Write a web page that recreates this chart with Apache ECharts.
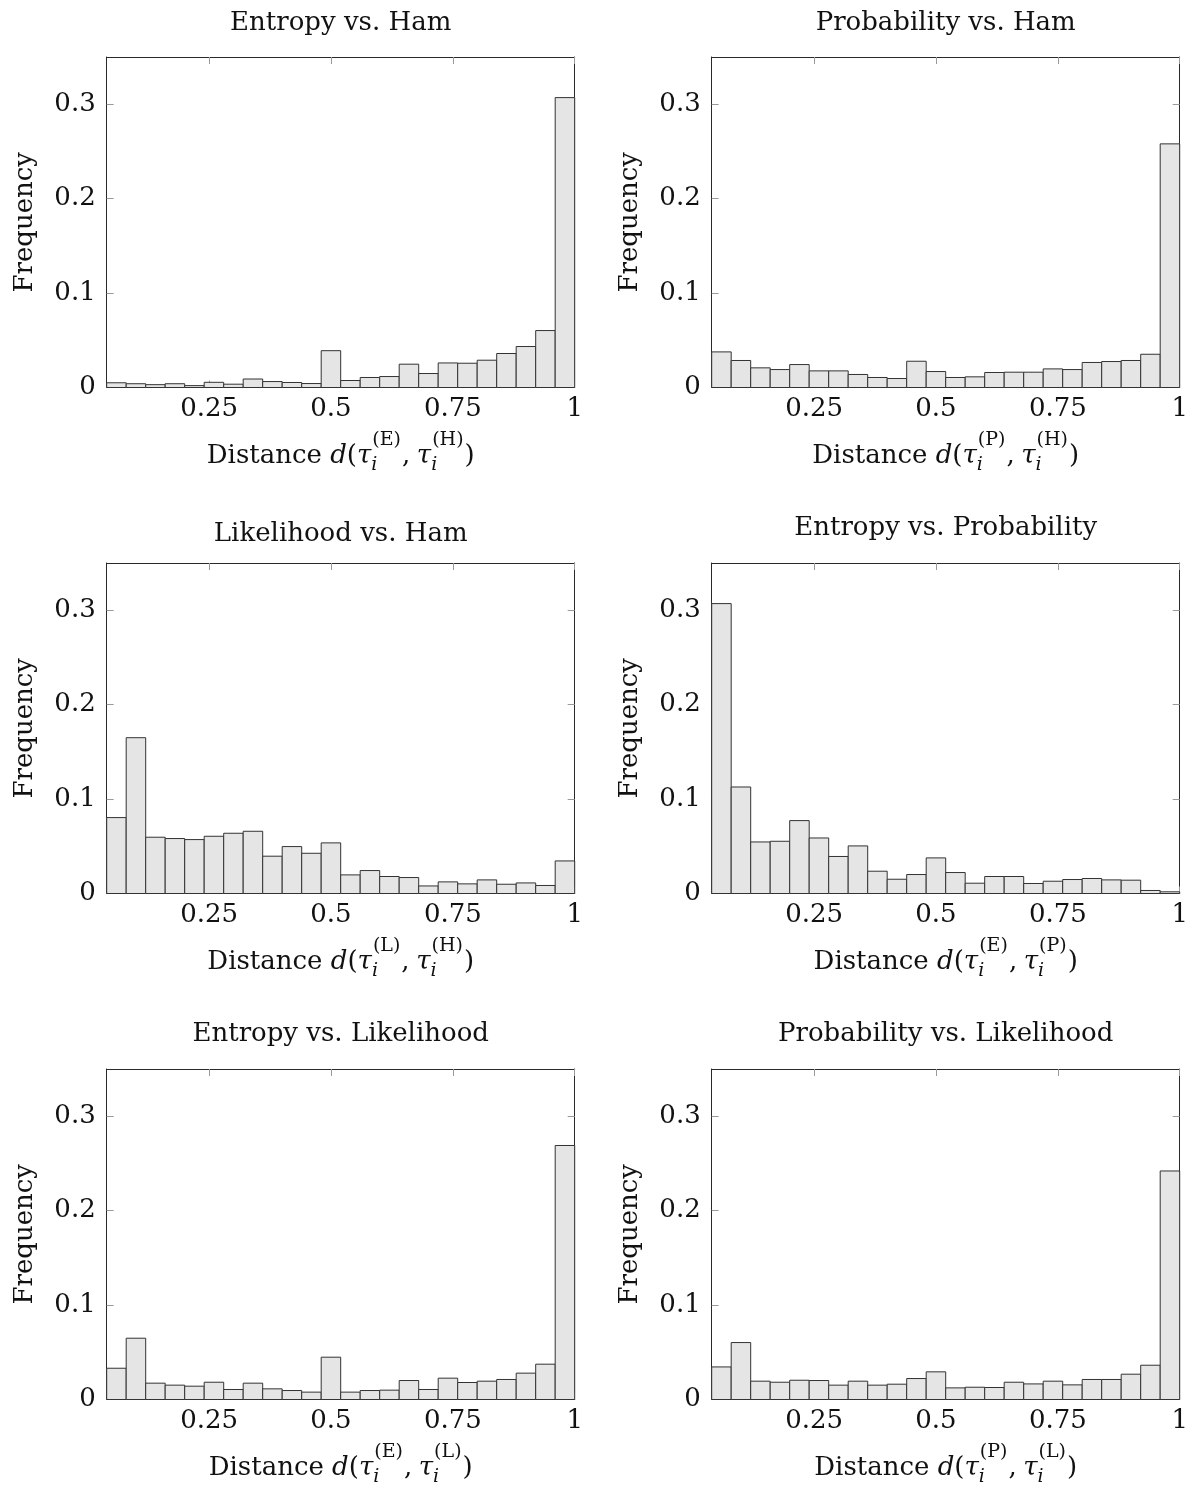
<!DOCTYPE html>
<html>
<head>
<meta charset="utf-8">
<script src="https://cdn.jsdelivr.net/npm/echarts@6/dist/echarts.min.js"></script>
<style>
  html, body { margin: 0; padding: 0; background: #fff; }
  #chart { width: 1191px; height: 1489px; }
</style>
</head>
<body>
<div id="chart"></div>
<script>
// Left edge of each histogram bin (bins are 0.04 wide)
const binStarts = [0.04, 0.08, 0.12, 0.16, 0.20, 0.24, 0.28, 0.32, 0.36, 0.40, 0.44, 0.48,
                   0.52, 0.56, 0.60, 0.64, 0.68, 0.72, 0.76, 0.80, 0.84, 0.88, 0.92, 0.96];
const binWidth = 0.04;
const xTicks = [0.25, 0.5, 0.75, 1];
const yTicks = [0, 0.1, 0.2, 0.3];

// Relative frequency per bin
const entropyVsHam = [0.005, 0.004, 0.003, 0.004, 0.002, 0.0055, 0.0035, 0.009, 0.0063, 0.0053, 0.0042, 0.039,
                      0.0074, 0.0106, 0.0116, 0.0247, 0.0148, 0.026, 0.0257, 0.0289, 0.036, 0.0434, 0.0603, 0.307];
const probabilityVsHam = [0.0377, 0.0286, 0.0208, 0.019, 0.0243, 0.0176, 0.0176, 0.0138, 0.0106, 0.0095, 0.0278, 0.0169,
                          0.0106, 0.0113, 0.0159, 0.0162, 0.0162, 0.0197, 0.019, 0.0265, 0.0275, 0.0286, 0.0352, 0.258];
const likelihoodVsHam = [0.0804, 0.165, 0.0596, 0.0582, 0.0571, 0.0606, 0.0638, 0.0659, 0.0395, 0.0497, 0.0426, 0.0536,
                         0.0197, 0.0243, 0.018, 0.0169, 0.008, 0.0123, 0.0102, 0.0144, 0.0098, 0.0112, 0.0085, 0.0345];
const entropyVsProbability = [0.307, 0.1128, 0.0546, 0.0553, 0.0772, 0.0588, 0.0392, 0.0504, 0.0236, 0.0151, 0.0201, 0.0377,
                              0.0222, 0.0109, 0.018, 0.018, 0.0106, 0.013, 0.0148, 0.0159, 0.0144, 0.0141, 0.0032, 0.0018];
const entropyVsLikelihood = [0.0331, 0.0649, 0.0173, 0.0152, 0.0141, 0.0183, 0.0106, 0.0173, 0.0113, 0.0095, 0.0078, 0.0448,
                             0.0078, 0.0095, 0.0099, 0.0201, 0.0106, 0.0226, 0.018, 0.0194, 0.0212, 0.0279, 0.0374, 0.269];
const probabilityVsLikelihood = [0.0345, 0.0603, 0.0194, 0.0183, 0.0204, 0.0201, 0.0152, 0.0194, 0.0152, 0.0162, 0.0222, 0.0293,
                                 0.0123, 0.013, 0.0127, 0.0183, 0.0165, 0.0194, 0.0155, 0.0212, 0.0212, 0.0268, 0.0363, 0.242];

const panels = [
  { title: 'Entropy vs. Ham',            a: 'E', b: 'H', values: entropyVsHam },
  { title: 'Probability vs. Ham',        a: 'P', b: 'H', values: probabilityVsHam },
  { title: 'Likelihood vs. Ham',         a: 'L', b: 'H', values: likelihoodVsHam },
  { title: 'Entropy vs. Probability',    a: 'E', b: 'P', values: entropyVsProbability },
  { title: 'Entropy vs. Likelihood',     a: 'E', b: 'L', values: entropyVsLikelihood },
  { title: 'Probability vs. Likelihood', a: 'P', b: 'L', values: probabilityVsLikelihood }
];

// Page layout
const colLeft = [106.7, 711.7];
const plotW = 468;
const rowTop = [57, 563, 1069];
const plotH = 330.5;
const titleY = [[23, 23], [534, 528], [1034, 1034]];

const FAMILY = "'DejaVu Serif'";
const TICK_SIZE = 26;
const TITLE_SIZE = 26;
const LABEL_SIZE = 26;
const MATH_SIZE = 26;
const SCRIPT_SIZE = 19;
const TEXT = '#111';
const FRAME = '#2a2a2a';
const TICK = '#9a9a9a';

const measureCtx = document.createElement('canvas').getContext('2d');
function measure(font, text) {
  measureCtx.font = font;
  const m = measureCtx.measureText(text);
  return { w: m.width, mid: (m.fontBoundingBoxAscent - m.fontBoundingBoxDescent) / 2 };
}

// Builds "Distance d(τ_i^(A), τ_i^(B))" from text pieces laid out on a common baseline
function distanceLabel(cx, baseline, a, b) {
  const word = LABEL_SIZE + 'px ' + FAMILY;
  const up = MATH_SIZE + 'px ' + FAMILY;
  const it = 'italic ' + MATH_SIZE + 'px ' + FAMILY;
  const sUp = SCRIPT_SIZE + 'px ' + FAMILY;
  const sIt = 'italic ' + SCRIPT_SIZE + 'px ' + FAMILY;
  const supShift = MATH_SIZE * 0.72;
  const subShift = MATH_SIZE * 0.24;
  const items = [];
  let x = 0;
  function put(text, font, dy) {
    const m = measure(font, text);
    items.push({ text, font, x, dy, mid: m.mid });
    x += m.w;
  }
  function stack(sup) {
    const mi = measure(sIt, 'i');
    const ms = measure(sUp, sup);
    items.push({ text: 'i', font: sIt, x: x, dy: subShift, mid: mi.mid });
    items.push({ text: sup, font: sUp, x: x + 1, dy: -supShift, mid: ms.mid });
    x += Math.max(mi.w, ms.w + 1) + 1;
  }
  put('Distance ', word, 0);
  put('d', it, 0);
  put('(', up, 0);
  put('τ', it, 0);
  stack('(' + a + ')');
  put(',', up, 0);
  x += MATH_SIZE * 0.25;
  put('τ', it, 0);
  stack('(' + b + ')');
  put(')', up, 0);
  const x0 = cx - x / 2;
  return items.map(p => ({
    type: 'text',
    x: x0 + p.x,
    y: baseline + p.dy - p.mid,
    silent: true,
    style: { text: p.text, font: p.font, fill: TEXT, align: 'left', verticalAlign: 'middle' }
  }));
}

const grids = [], xAxes = [], yAxes = [], series = [], graphics = [];

panels.forEach((p, i) => {
  const row = Math.floor(i / 2), col = i % 2;
  const left = colLeft[col], top = rowTop[row];
  grids.push({ left, top, width: plotW, height: plotH, containLabel: false });

  const baseAxis = {
    gridIndex: i,
    type: 'value',
    axisLine: { show: true, onZero: false, lineStyle: { color: FRAME, width: 1 } },
    splitLine: { show: false }
  };
  // bottom and top x axes (ticks drawn inside on both)
  xAxes.push(Object.assign({}, baseAxis, {
    position: 'bottom', min: 0.04, max: 1,
    axisTick: { show: true, inside: true, length: 7, customValues: xTicks, lineStyle: { color: TICK } },
    axisLabel: {
      show: true, customValues: xTicks, margin: 9, color: TEXT,
      fontFamily: FAMILY, fontSize: TICK_SIZE,
      formatter: v => String(+v.toFixed(2))
    }
  }));
  xAxes.push(Object.assign({}, baseAxis, {
    position: 'top', min: 0.04, max: 1,
    axisTick: { show: true, inside: true, length: 7, customValues: xTicks, lineStyle: { color: TICK } },
    axisLabel: { show: false }
  }));
  // left and right y axes
  yAxes.push(Object.assign({}, baseAxis, {
    position: 'left', min: 0, max: 0.35,
    axisTick: { show: true, inside: true, length: 7, customValues: yTicks, lineStyle: { color: TICK } },
    axisLabel: {
      show: true, customValues: yTicks, margin: 11, color: TEXT,
      fontFamily: FAMILY, fontSize: TICK_SIZE,
      formatter: v => String(+v.toFixed(2))
    }
  }));
  yAxes.push(Object.assign({}, baseAxis, {
    position: 'right', min: 0, max: 0.35,
    axisTick: { show: true, inside: true, length: 7, customValues: yTicks, lineStyle: { color: TICK } },
    axisLabel: { show: false }
  }));

  series.push({
    type: 'custom',
    name: p.title,
    xAxisIndex: 2 * i,
    yAxisIndex: 2 * i,
    encode: { x: [0, 1], y: 2 },
    data: binStarts.map((s, k) => [s, s + binWidth, p.values[k]]),
    renderItem: (params, api) => {
      const topLeft = api.coord([api.value(0), api.value(2)]);
      const bottomRight = api.coord([api.value(1), 0]);
      return {
        type: 'rect',
        shape: {
          x: topLeft[0], y: topLeft[1],
          width: bottomRight[0] - topLeft[0], height: bottomRight[1] - topLeft[1]
        },
        style: { fill: '#e5e5e5', stroke: '#333', lineWidth: 1 }
      };
    }
  });

  const cx = left + plotW / 2;
  graphics.push({
    type: 'text', x: cx, y: titleY[row][col], silent: true,
    style: { text: p.title, font: TITLE_SIZE + 'px ' + FAMILY, fill: TEXT, align: 'center', verticalAlign: 'middle' }
  });
  graphics.push({
    type: 'text', x: left - 81, y: top + plotH / 2, rotation: Math.PI / 2, silent: true,
    style: { text: 'Frequency', font: TITLE_SIZE + 'px ' + FAMILY, fill: TEXT, align: 'center', verticalAlign: 'middle' }
  });
  graphics.push(...distanceLabel(cx, top + plotH + 78, p.a, p.b));
});

const chart = echarts.init(document.getElementById('chart'), null, { renderer: 'canvas' });
chart.setOption({
  animation: false,
  backgroundColor: '#fff',
  grid: grids,
  xAxis: xAxes,
  yAxis: yAxes,
  series,
  graphic: graphics
});
</script>
</body>
</html>
